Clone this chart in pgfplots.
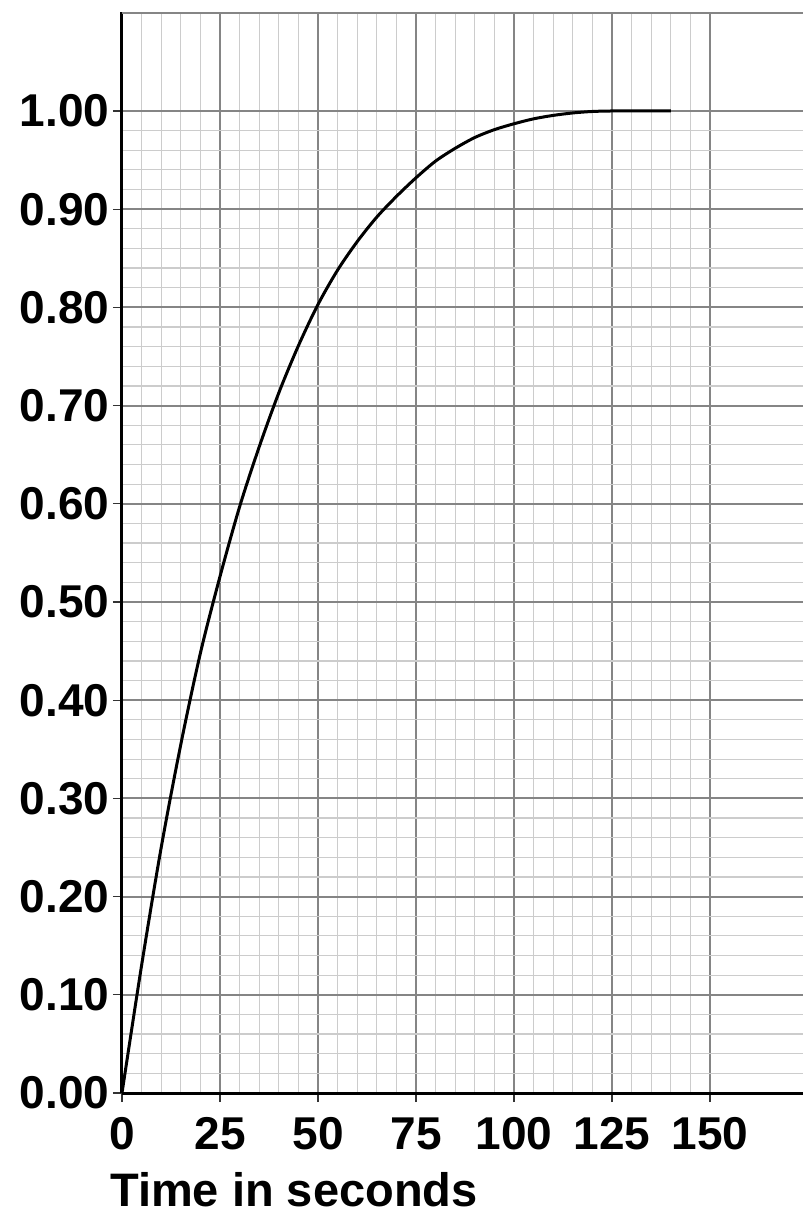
\documentclass[border=0pt]{standalone}
\usepackage{fontspec}
\setmainfont{Liberation Sans}
\usepackage{pgfplots}
\pgfplotsset{compat=1.18}

\definecolor{majgrid}{gray}{0.52}
\definecolor{mingrid}{gray}{0.80}

\newcommand{\tickfont}{\fontsize{46}{46}\selectfont\bfseries}
\newcommand{\labfont}{\fontsize{47}{47}\selectfont\bfseries}

\begin{document}
\begin{tikzpicture}
  \begin{axis}[
    name=ax,
    scale only axis,
    width=681pt,
    height=1081pt,
    xmin=0, xmax=173.7,
    ymin=0, ymax=1.1008,
    axis lines=left,
    axis line style={line width=3pt, -},
    xtick={0,25,...,150},
    ytick={0,0.1,...,1.0},
    extra y ticks={1.1},
    extra y tick labels={},
    extra y tick style={major tick length=0pt},
    minor x tick num=4,
    minor y tick num=4,
    tick align=outside,
    major tick length=9pt,
    minor tick length=0pt,
    tick style={line width=1.2pt, black!80},
    grid=both,
    major grid style={line width=2pt, majgrid},
    minor grid style={line width=1.2pt, mingrid},
    /pgf/number format/assume math mode=true,
    ticklabel style={font=\tickfont},
    yticklabel style={/pgf/number format/.cd, fixed, fixed zerofill, precision=2},
    xticklabel style={yshift=-12pt, /pgf/number format/.cd, fixed, precision=0},
    xlabel={Time in seconds},
    xlabel style={font=\labfont, at={(axis description cs:0,0)}, anchor=north west,
      inner sep=0pt, xshift=-12pt, yshift=-79pt},
    clip=true,
  ]
    % curve, every 5 s
    \addplot[black, line width=3pt, smooth, tension=0.5] coordinates {
      (0,0) (5,0.130) (10,0.250) (15,0.355) (20,0.448) (25,0.526)
      (30,0.597) (35,0.658) (40,0.713) (45,0.761) (50,0.803)
      (55,0.838) (60,0.867) (65,0.892) (70,0.913) (75,0.932)
      (80,0.949) (85,0.962) (90,0.973) (95,0.981) (100,0.987)
      (105,0.992) (110,0.9955) (115,0.998) (120,0.9995) (125,1.0)
      (130,1.0) (135,1.0) (140,1.0)
    };
  \end{axis}
  \pgfresetboundingbox
  \path[use as bounding box] ([xshift=-122pt,yshift=-121pt]ax.south west)
    rectangle ([yshift=12pt]ax.north east);
\end{tikzpicture}
\end{document}
